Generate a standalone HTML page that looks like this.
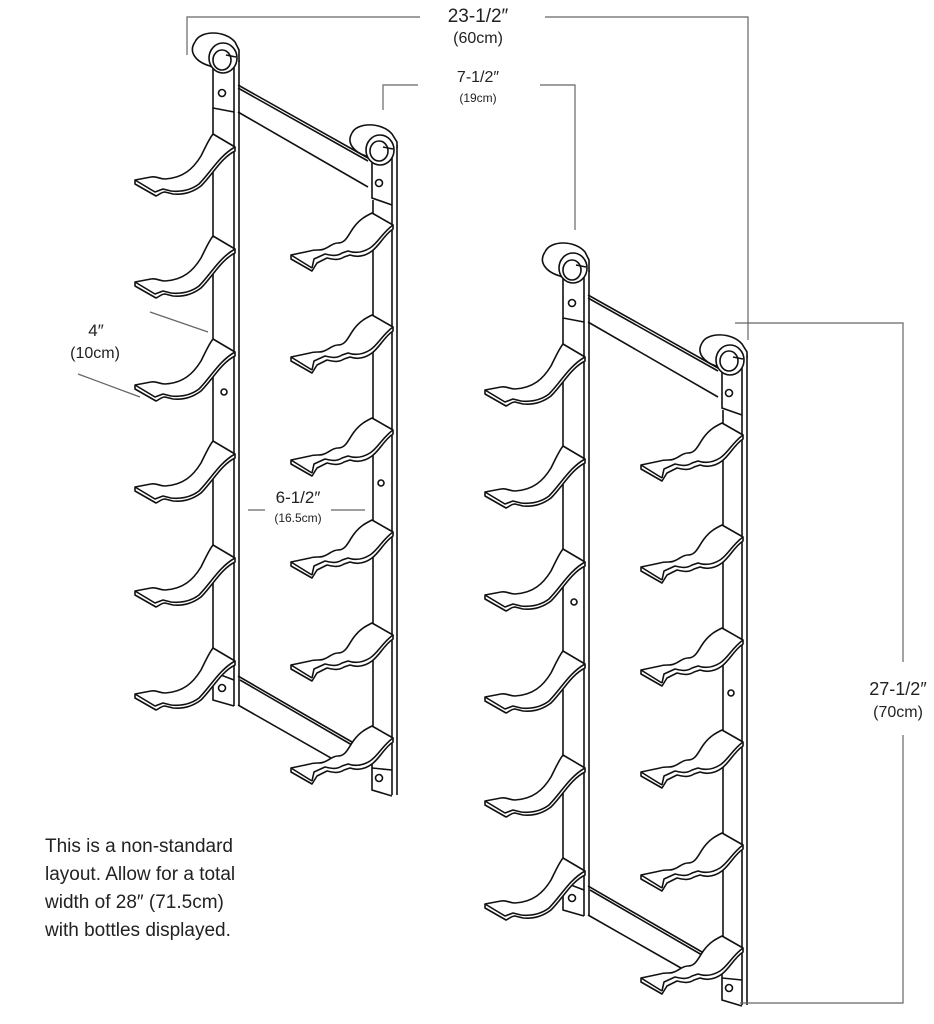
<!DOCTYPE html>
<html><head><style>
html,body{margin:0;padding:0;background:#fff;}
svg{display:block;}
text{font-family:"Liberation Sans",sans-serif;fill:#222;}
</style></head><body>
<svg width="934" height="1024" viewBox="0 0 934 1024" xmlns="http://www.w3.org/2000/svg">
<defs>
<g id="cA" fill="#fff" stroke="#111" stroke-width="1.6" stroke-linejoin="round">
<path d="M0,0 L22,13 L22,17 C8,24 0,40 -12,52 C-20,58 -30,61 -40,60 L-48,58 C-52,58 -54,61 -57,62 L-78,50 L-78,46 L-62,43 C-56,42 -54,45 -48,45 C-30,44 -20,35 -12,22 C-7,12 -4,5 0,0 Z"/>
<path d="M22,13 C6,22 -2,38 -14,50 C-22,56 -32,58 -42,57 L-50,55 L-58,58 L-78,46" fill="none"/>
</g>
<g id="cB" fill="#fff" stroke="#111" stroke-width="1.6" stroke-linejoin="round">
<path d="M0,0 L21,12 L21,16 C12,22 8,32 0,38 C-8,44 -16,44 -22,42 L-28,44 C-34,48 -40,46 -45,45 L-55,50 L-60,58 L-81,46 L-81,42 L-62,38 C-56,36 -52,38 -48,36 C-42,34 -40,30 -34,30 C-26,30 -24,22 -18,14 C-12,6 -6,3 0,0 Z"/>
<path d="M21,12 C10,20 6,30 -2,35 C-10,40 -18,40 -24,38 L-30,40 C-36,44 -42,42 -47,41 L-58,46 L-60,55 M-60,55 L-81,42" fill="none"/>
</g>
<g id="rack" stroke="#111" stroke-width="1.6" fill="none">
<!-- top crossbar -->
<path d="M238,85 L368,158 M238,112 L368,187 M238,88 L368,161" fill="none"/>
<!-- bottom crossbar -->
<path d="M238,676 L352,742 M238,705 L345,766 M240,680 L352,745"/>
<!-- left column -->
<line x1="213" y1="108" x2="213" y2="672"/>
<line x1="234" y1="62" x2="234" y2="706"/>
<line x1="239" y1="60" x2="239" y2="706"/>
<path d="M213,60 L213,108 L234,112 M213,60 L234,62" />
<circle cx="222" cy="93" r="3.5"/>
<circle cx="224" cy="392" r="3"/>
<path d="M213,672 L213,700 L234,706 M213,672 L234,680"/>
<circle cx="222" cy="688" r="3.5"/>
<!-- left roll -->
<path d="M195,42 C200,30 225,30 235,42 L239,50 L239,62" fill="#fff"/>
<path d="M195,42 C188,52 196,62 210,66 L218,70" fill="#fff"/>
<ellipse cx="223" cy="58" rx="14" ry="15" fill="#fff"/>
<ellipse cx="222" cy="60" rx="9" ry="10"/>
<line x1="226" y1="55" x2="236" y2="57"/>
<!-- right column -->
<line x1="373" y1="200" x2="373" y2="762"/>
<line x1="392" y1="148" x2="392" y2="795"/>
<line x1="397" y1="145" x2="397" y2="795"/>
<path d="M372,150 L372,198 L392,205 M372,762 L372,790 L392,796 M372,768 L392,770"/>
<circle cx="379" cy="183" r="3.5"/>
<circle cx="381" cy="483" r="3"/>
<circle cx="379" cy="778" r="3.5"/>
<path d="M352,133 C357,122 382,122 392,134 L397,142 L397,148" fill="#fff"/>
<path d="M352,133 C346,143 354,152 366,156 L376,160" fill="#fff"/>
<ellipse cx="380" cy="150" rx="14" ry="15" fill="#fff"/>
<ellipse cx="379" cy="151" rx="9" ry="10"/>
<line x1="383" y1="147" x2="393" y2="149"/>
<!-- cradles -->
<use href="#cA" x="213" y="134"/>
<use href="#cA" x="213" y="236"/>
<use href="#cA" x="213" y="339"/>
<use href="#cA" x="213" y="441"/>
<use href="#cA" x="213" y="545"/>
<use href="#cA" x="213" y="648"/>
<use href="#cB" x="372" y="213"/>
<use href="#cB" x="372" y="315"/>
<use href="#cB" x="372" y="418"/>
<use href="#cB" x="372" y="520"/>
<use href="#cB" x="372" y="623"/>
<use href="#cB" x="372" y="726"/>
</g>
</defs>
<use href="#rack"/>
<use href="#rack" transform="translate(350,210)"/>
<g stroke="#666" stroke-width="1.2" fill="none">
<path d="M187,55 L187,17 L420,17"/>
<path d="M545,17 L748,17 L748,340"/>
<path d="M383,110 L383,85 L418,85"/>
<path d="M540,85 L575,85 L575,230"/>
<path d="M735,323 L903,323 L903,662"/>
<path d="M903,735 L903,1003 L740,1003"/>
<path d="M150,312 L208,332"/>
<path d="M78,374 L140,397"/>
<path d="M248,510 L265,510 M331,510 L365,510"/>
</g>
<text x="478" y="22" font-size="19" text-anchor="middle">23-1/2″</text>
<text x="478" y="43" font-size="16" text-anchor="middle">(60cm)</text>
<text x="478" y="82" font-size="16" text-anchor="middle">7-1/2″</text>
<text x="478" y="102" font-size="12" text-anchor="middle">(19cm)</text>
<text x="96" y="336" font-size="17" text-anchor="middle">4″</text>
<text x="95" y="358" font-size="16" text-anchor="middle">(10cm)</text>
<text x="298" y="503" font-size="17" text-anchor="middle">6-1/2″</text>
<text x="298" y="522" font-size="12" text-anchor="middle">(16.5cm)</text>
<text x="898" y="695" font-size="18" text-anchor="middle">27-1/2″</text>
<text x="898" y="717" font-size="16" text-anchor="middle">(70cm)</text>
<g font-size="19">
<text x="45" y="852">This is a non-standard</text>
<text x="45" y="880">layout. Allow for a total</text>
<text x="45" y="908">width of 28″ (71.5cm)</text>
<text x="45" y="936">with bottles displayed.</text>
</g>
</svg>
</body></html>
